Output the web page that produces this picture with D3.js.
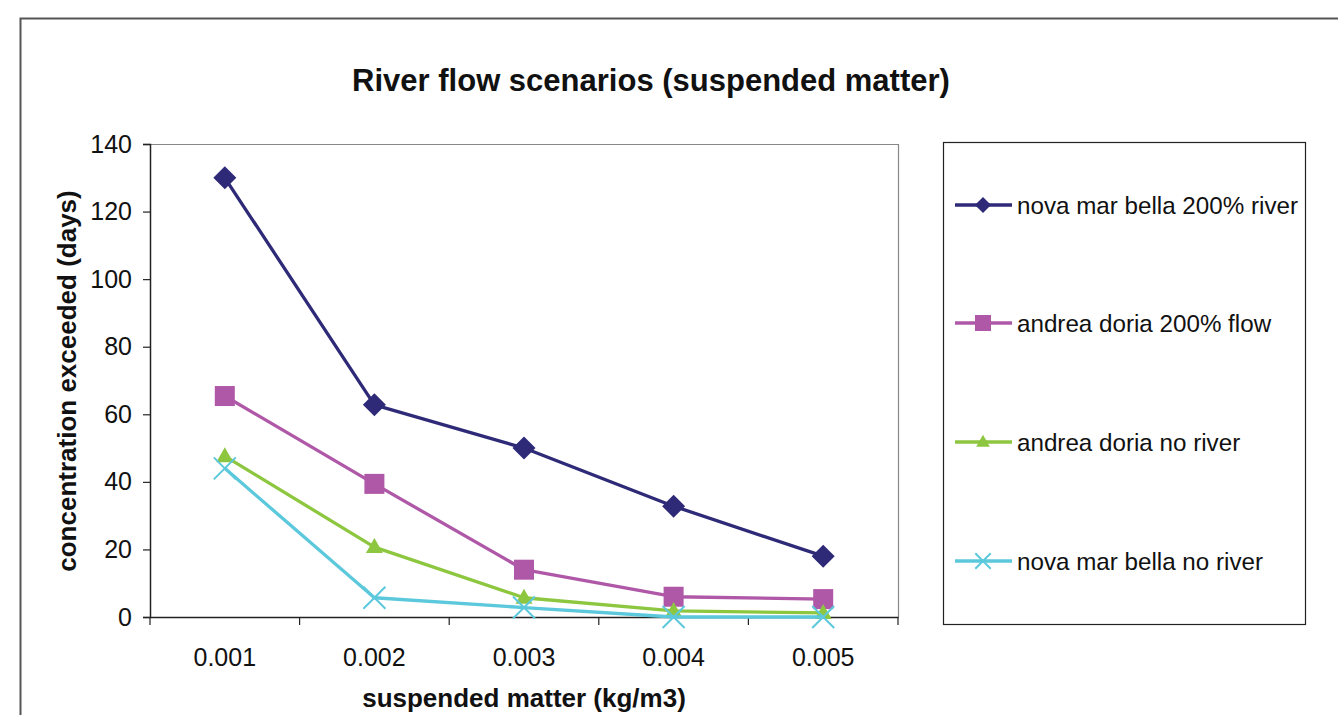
<!DOCTYPE html>
<html><head><meta charset="utf-8">
<script src="https://cdn.jsdelivr.net/npm/d3@7"></script>
<style>body{margin:0;background:#fff;} svg{display:block;font-family:"Liberation Sans",Arial,sans-serif;}</style>
</head><body>
<svg id="c" width="1338" height="715"></svg>
<script>
const categories = ["0.001","0.002","0.003","0.004","0.005"];
const seriesNames = ["nova mar bella 200% river","andrea doria 200% flow","andrea doria no river","nova mar bella no river"];
const novaMarBella200 = [130, 62.8, 50, 32.8, 18];
const andreaDoria200 = [65.4, 39.4, 14, 6, 5.3];
const andreaDoriaNoRiver = [47.6, 20.7, 5.7, 1.8, 1.2];
const novaMarBellaNoRiver = [44, 5.7, 2.8, 0, 0];
const yTicks = [0,20,40,60,80,100,120,140];
const colors = ["#2E2A78","#B058A8","#8DC63F","#5CC8DC"];
const symbols = ["diamond","square","triangle","x"];
const seriesValues = [novaMarBella200, andreaDoria200, andreaDoriaNoRiver, novaMarBellaNoRiver];

const svg = d3.select("#c");
// outer frame
svg.append("path").attr("d","M20.5,1000 L20.5,18.5 L1400,18.5").attr("fill","none").attr("stroke","#555").attr("stroke-width",2);

const L=150, R=898, T=144, B=617;
const x = d3.scaleBand().domain(categories).range([L,R]);
const y = d3.scaleLinear().domain([0,140]).range([B,T]);

// plot frame top/right
svg.append("path").attr("d",`M${L},${T+0.5} L${R+0.5},${T+0.5} L${R+0.5},${B}`).attr("fill","none").attr("stroke","#888").attr("stroke-width",1.2);

// y axis
const ya = svg.append("g").attr("transform",`translate(${L},0)`)
  .call(d3.axisLeft(y).tickValues(yTicks).tickSize(7).tickPadding(11).tickFormat(d3.format("d")));
ya.select(".domain").attr("stroke","#222").attr("stroke-width",1.5);
ya.selectAll(".tick line").attr("stroke","#222").attr("stroke-width",1.2);
ya.selectAll("text").attr("font-size",25).attr("fill","#111").attr("font-family","Liberation Sans, Arial, sans-serif");

// x axis
const xa = svg.append("g").attr("transform",`translate(0,${B})`)
  .call(d3.axisBottom(x).tickSize(0).tickPadding(0));
xa.select(".domain").attr("stroke","#222").attr("stroke-width",1.5);
xa.selectAll("text").attr("dy",null).attr("y",49).attr("font-size",25).attr("fill","#111").attr("font-family","Liberation Sans, Arial, sans-serif");
// boundary ticks
const bounds = categories.map(c=>x(c)).concat([R]);
svg.append("g").selectAll("line").data(bounds).join("line")
  .attr("x1",d=>d).attr("x2",d=>d).attr("y1",B).attr("y2",B+8).attr("stroke","#222").attr("stroke-width",1.2);

const cx = c => x(c) + x.bandwidth()/2;

function marker(g, type, color, px, py, scale){
  const s = scale||1;
  if(type==="diamond"){
    g.append("path").attr("d",`M${px},${py-11.5*s} L${px+11.5*s},${py} L${px},${py+11.5*s} L${px-11.5*s},${py} Z`).attr("fill",color);
  } else if(type==="square"){
    g.append("rect").attr("x",px-10*s).attr("y",py-10*s).attr("width",20*s).attr("height",20*s).attr("fill",color);
  } else if(type==="triangle"){
    g.append("path").attr("d",`M${px},${py-9*s} L${px+8.5*s},${py+6*s} L${px-8.5*s},${py+6*s} Z`).attr("fill",color);
  } else {
    g.append("path").attr("d",`M${px-11*s},${py-11*s} L${px+11*s},${py+11*s} M${px+11*s},${py-11*s} L${px-11*s},${py+11*s}`).attr("stroke",color).attr("stroke-width",2);
  }
}

const line = d3.line().x((d,i)=>cx(categories[i])).y(d=>y(d));
seriesValues.forEach((vals,si)=>{
  const g = svg.append("g");
  g.append("path").datum(vals).attr("d",line).attr("fill","none").attr("stroke",colors[si]).attr("stroke-width",3.3).attr("stroke-linejoin","round");
  vals.forEach((v,i)=>marker(g, symbols[si], colors[si], cx(categories[i]), y(v), 1));
});

// title
svg.append("text").attr("x",651).attr("y",91).attr("text-anchor","middle").attr("font-size",31).attr("font-weight","bold").attr("fill","#111").text("River flow scenarios (suspended matter)");
svg.append("text").attr("x",524).attr("y",707).attr("text-anchor","middle").attr("font-size",26).attr("font-weight","bold").attr("fill","#111").text("suspended matter (kg/m3)");
svg.append("text").attr("transform","translate(76,381) rotate(-90)").attr("text-anchor","middle").attr("font-size",26).attr("font-weight","bold").attr("fill","#111").text("concentration exceeded (days)");

// legend
svg.append("rect").attr("x",943.5).attr("y",142.5).attr("width",362).attr("height",482).attr("fill","#fff").attr("stroke","#222").attr("stroke-width",1.2);
const legY = [205,323,442,561];
seriesNames.forEach((n,i)=>{
  const g = svg.append("g");
  g.append("line").attr("x1",955).attr("x2",1012).attr("y1",legY[i]).attr("y2",legY[i]).attr("stroke",colors[i]).attr("stroke-width",3.3);
  marker(g, symbols[i], colors[i], 983, legY[i], i===0?0.7:(i===3?0.7:0.8));
  g.append("text").attr("x",1017).attr("y",legY[i]+9).attr("font-size",24.2).attr("fill","#111").text(n);
});
</script>
</body></html>
